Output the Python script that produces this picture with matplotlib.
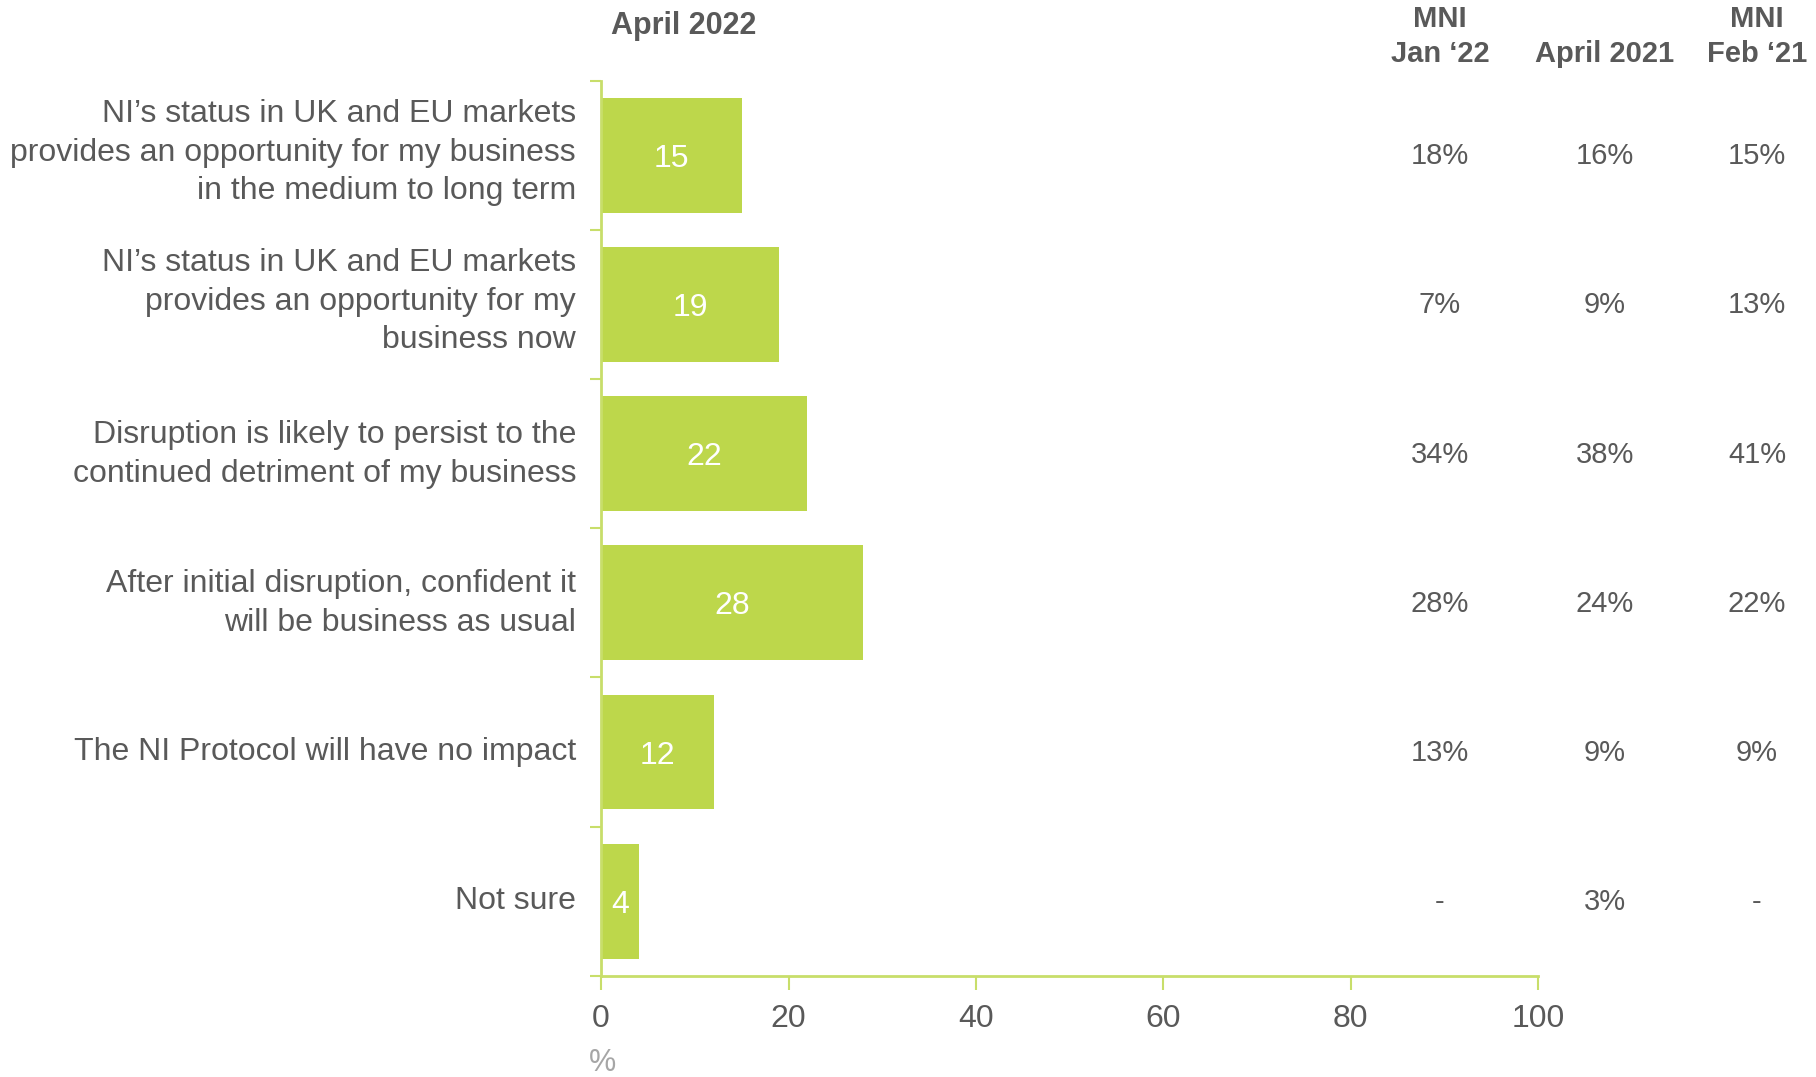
import matplotlib.pyplot as plt
import matplotlib.transforms as mtransforms
import numpy as np

plt.rcParams['font.family'] = ['Liberation Sans', 'DejaVu Sans']

categories = [
    "NI\u2019s status in UK and EU markets\nprovides an opportunity for my business\nin the medium to long term",
    "NI\u2019s status in UK and EU markets\nprovides an opportunity for my\nbusiness now",
    "Disruption is likely to persist to the\ncontinued detriment of my business",
    "After initial disruption, confident it\nwill be business as usual",
    "The NI Protocol will have no impact",
    "Not sure",
]
april_2022 = [15, 19, 22, 28, 12, 4]
mni_jan22 = ["18%", "7%", "34%", "28%", "13%", "-"]
april_2021 = ["16%", "9%", "38%", "24%", "9%", "3%"]
mni_feb21 = ["15%", "13%", "41%", "22%", "9%", "-"]
col_headers = ["MNI\nJan \u201822", "April 2021", "MNI\nFeb \u201821"]
x_ticks = [0, 20, 40, 60, 80, 100]

bar_color = "#BDD74B"
line_color = "#C8DE6A"
text_color = "#595959"

fig = plt.figure(figsize=(18.16, 10.77), dpi=100)
ax = fig.add_axes([0.331, 0.094, 0.516, 0.831])

y = np.arange(len(categories))
ax.barh(y, april_2022, height=0.77, color=bar_color)
for yi, v in zip(y, april_2022):
    ax.text(v / 2, yi, str(v), ha="center", va="center_baseline", color="white", fontsize=23)

ax.set_xlim(0, 100)
ax.set_ylim(len(categories) - 0.5, -0.5)
ax.set_xticks(x_ticks)
ax.set_xticklabels([str(t) for t in x_ticks], fontsize=23, color=text_color)
ax.tick_params(axis="x", length=10, width=1.5, color=line_color, pad=10)

ax.set_yticks(y)
ax.set_yticklabels(categories, fontsize=23, color=text_color, linespacing=1.37)
ax.tick_params(axis="y", which="major", length=0, pad=18)
ax.set_yticks(np.arange(-0.5, len(categories) + 0.5, 1), minor=True)
ax.tick_params(axis="y", which="minor", length=8, width=1.5, color=line_color)

# nudge the wrapped labels up a little, like the original
for lab in ax.get_yticklabels():
    nlines = lab.get_text().count("\n") + 1
    shift = mtransforms.ScaledTranslation(0, 0.035 * nlines, fig.dpi_scale_trans)
    lab.set_transform(lab.get_transform() + shift)

for side in ["top", "right"]:
    ax.spines[side].set_visible(False)
for side in ["left", "bottom"]:
    ax.spines[side].set_color(line_color)
    ax.spines[side].set_linewidth(2)

fig.text(603 / 1816, 1 - 1063 / 1077, "%", fontsize=22, color="#A6A6A6", ha="center", va="center")

# side columns
col_x = [1440 / 1816, 1605 / 1816, 1757 / 1816]
for cx, head, vals in zip(col_x, col_headers, [mni_jan22, april_2021, mni_feb21]):
    fig.text(cx, 1 - 68 / 1077, head, ha="center", va="bottom", fontsize=21,
             fontweight="bold", color=text_color, linespacing=1.3)
    for yi, v in zip(y, vals):
        xd, yd = ax.transData.transform((0, yi))
        fx, fy = fig.transFigure.inverted().transform((xd, yd))
        fig.text(cx, fy + 0.002, v, ha="center", va="center_baseline", fontsize=21, color=text_color)

fig.text(684 / 1816, 1 - 26 / 1077, "April 2022", ha="center", va="center", fontsize=22,
         fontweight="bold", color=text_color)

fig.savefig("out.png", dpi=100)
